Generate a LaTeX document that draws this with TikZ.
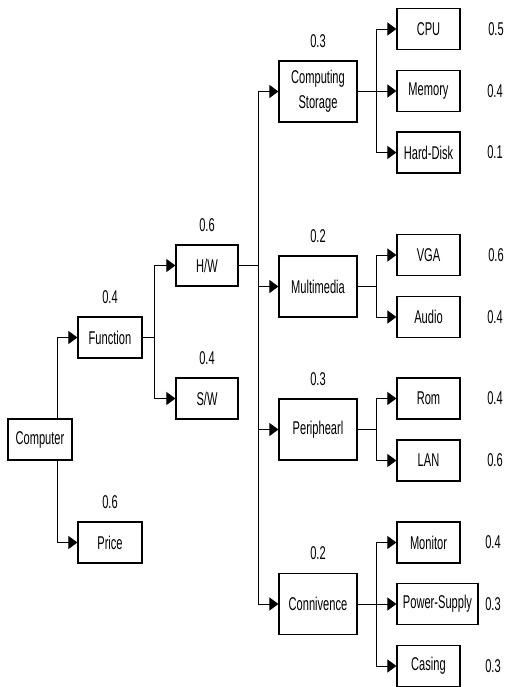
\documentclass[tikz,border=0pt]{standalone}
\usepackage{fontspec}
\newfontfamily\nf[FakeStretch=0.6]{Liberation Sans}
\usetikzlibrary{arrows.meta}
\begin{document}
\begin{tikzpicture}[x=1pt,y=-1pt,
  box/.style={draw, line width=1.2pt, inner sep=0pt, align=center,
    font=\nf\fontsize{18.5}{25}\selectfont},
  sbox/.style={box, minimum width=64pt, minimum height=41pt},
  hbox/.style={box, minimum width=62pt, minimum height=41pt},
  mbox/.style={box, minimum width=78pt, minimum height=61pt},
  lbox/.style={box, minimum width=63pt, minimum height=41pt},
  wt/.style={font=\nf\fontsize{18.5}{22}\selectfont, inner sep=0pt},
  top/.style={label={[wt, label distance=13pt]above:#1}},
  ln/.style={line width=0.9pt},
  arr/.style={ln, -{Triangle[length=9pt,width=13pt]}}]
\useasboundingbox (0,0) rectangle (507,687);
% nodes
\node[sbox] (comp) at (40,439.5) {Computer};
\node[sbox, top=0.4] (func) at (110,337.5) {Function};
\node[sbox, top=0.6] (price) at (110,542.5) {Price};
\node[hbox, top=0.6] (hw) at (207,265.5) {H/W};
\node[hbox, top=0.4] (sw) at (207,398.5) {S/W};
\node[mbox, top=0.3] (cs) at (318,91.5) {Computing\\Storage};
\node[mbox, top=0.2] (mm) at (318,286.5) {Multimedia};
\node[mbox, top=0.3] (per) at (318,429.5) {Periphearl};
\node[mbox, top=0.2] (con) at (318,604) {Connivence};
\node[lbox] (cpu) at (428.5,29) {CPU};
\node[lbox] (mem) at (428.5,91) {Memory};
\node[lbox] (hd) at (428.5,152.5) {Hard-Disk};
\node[lbox] (vga) at (428.5,255) {VGA};
\node[lbox] (aud) at (428.5,317) {Audio};
\node[lbox] (rom) at (428.5,398.5) {Rom};
\node[lbox] (lan) at (428.5,460.5) {LAN};
\node[lbox] (mon) at (428.5,542.5) {Monitor};
\node[box, minimum width=81pt, minimum height=41pt] (ps) at (437.5,604) {Power-Supply};
\node[lbox] (cas) at (428.5,666) {Casing};
% weights
\node[wt] (wcpu) at (496,29) {0.5};
\node[wt] (wmem) at (495,91) {0.4};
\node[wt] (whd) at (495,152.5) {0.1};
\node[wt] (wvga) at (496,255) {0.6};
\node[wt] (waud) at (495,317) {0.4};
\node[wt] (wrom) at (495,398.5) {0.4};
\node[wt] (wlan) at (495,460.5) {0.6};
\node[wt] (wmon) at (493,542.5) {0.4};
\node[wt] (wps) at (493,604) {0.3};
\node[wt] (wcas) at (493,666) {0.3};
% branch columns
\coordinate (b0) at (57,0);
\coordinate (b1) at (154,0);
\coordinate (b2) at (258,0);
\coordinate (b3) at (376,0);
% connectors
\draw[arr] (comp.north -| b0) |- (func.west);
\draw[arr] (comp.south -| b0) |- (price.west);
\draw[ln] (func.east) -- (func.east -| b1);
\draw[arr] (func.east -| b1) |- (hw.west);
\draw[arr] (func.east -| b1) |- (sw.west);
\draw[ln] (hw.east) -- (hw.east -| b2);
\draw[arr] (hw.east -| b2) |- (cs.west);
\draw[arr] (hw.east -| b2) |- (mm.west);
\draw[arr] (hw.east -| b2) |- (per.west);
\draw[arr] (hw.east -| b2) |- (con.west);
\draw[ln] (cs.east) -- (cs.east -| b3);
\draw[arr] (cs.east -| b3) |- (cpu.west);
\draw[arr] (cs.east -| b3) |- (mem.west);
\draw[arr] (cs.east -| b3) |- (hd.west);
\draw[ln] (mm.east) -- (mm.east -| b3);
\draw[arr] (mm.east -| b3) |- (vga.west);
\draw[arr] (mm.east -| b3) |- (aud.west);
\draw[ln] (per.east) -- (per.east -| b3);
\draw[arr] (per.east -| b3) |- (rom.west);
\draw[arr] (per.east -| b3) |- (lan.west);
\draw[ln] (con.east) -- (con.east -| b3);
\draw[arr] (con.east -| b3) |- (mon.west);
\draw[arr] (con.east -| b3) |- (ps.west);
\draw[arr] (con.east -| b3) |- (cas.west);
\end{tikzpicture}
\end{document}
